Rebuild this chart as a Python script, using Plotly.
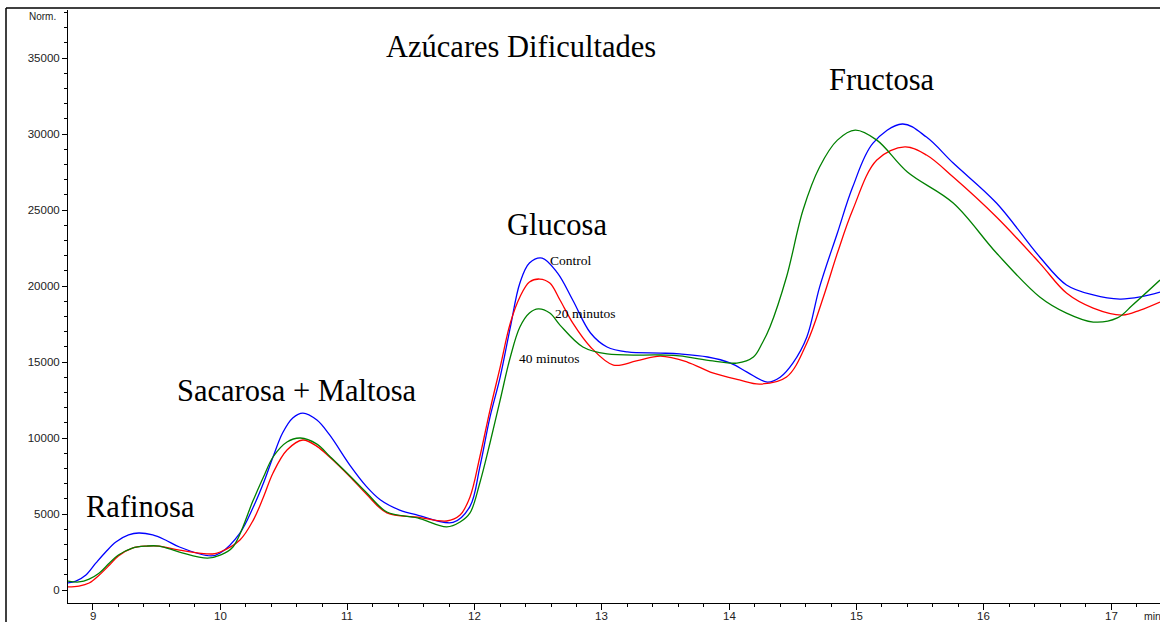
import plotly.graph_objects as go

# ---- data (time in min, signal in Norm.) ----
t_control = [8.80, 8.866, 8.945, 9.024, 9.10, 9.18, 9.28, 9.36, 9.47, 9.57, 9.68, 9.93, 10.00,
             10.155, 10.26, 10.34, 10.415, 10.49, 10.57,
             10.65, 10.76, 10.86, 11.02, 11.15, 11.26, 11.41, 11.55, 11.83, 11.963, 12.04, 12.12,
             12.20, 12.28, 12.355, 12.43, 12.53, 12.65, 12.77, 12.91, 13.04, 13.20, 13.46,
             13.61, 13.83, 14.01, 14.14, 14.30, 14.40, 14.50, 14.61, 14.71, 14.85, 14.97, 15.13, 15.36,
             15.55, 15.76, 16.10, 16.44, 16.65, 16.86, 17.07, 17.23, 17.385]
v_control = [460, 590, 990, 1780, 2500, 3160, 3620, 3750, 3620, 3290, 2830, 2240, 2430,
             3750, 5460, 7040, 8750, 10330, 11320,
             11640, 11180, 10200, 8200, 6800, 5920, 5260, 4930, 4450, 5500, 8090, 11380,
             14010, 17300, 20200, 21510, 21840, 20860, 19080, 16910, 15990, 15660, 15590,
             15530, 15330, 14930, 14340, 13680, 14000, 14930, 16650, 19930, 23490, 26510, 29400, 30660,
             29800, 28090, 25460, 21910, 20070, 19410, 19140, 19280, 19600]

t_20min = [8.80, 8.89, 8.97, 9.05, 9.13, 9.20, 9.31, 9.42, 9.52, 9.68, 9.94, 10.00, 10.155, 10.26,
           10.34, 10.415, 10.525,
           10.65, 10.76, 10.86, 11.02, 11.15, 11.31, 11.55, 11.78, 11.885, 11.963, 12.04, 12.12,
           12.20, 12.28, 12.355, 12.43, 12.51, 12.59, 12.67, 12.77, 12.91, 13.09, 13.27, 13.46,
           13.67, 13.87, 14.08, 14.24, 14.45, 14.61, 14.74, 14.85, 14.97, 15.16, 15.38, 15.55,
           15.76, 16.10, 16.44, 16.65, 16.86, 17.09, 17.23, 17.385]
v_20min = [200, 260, 460, 990, 1640, 2240, 2760, 2890, 2890, 2630, 2370, 2500, 3290, 4600,
           6120, 7700, 9210,
           9870, 9450, 8750, 7450, 6300, 5070, 4800, 4540, 4930, 6120, 8750, 11840,
           14670, 17570, 19280, 20260, 20460, 20200, 19080, 17570, 15990, 14800, 15070, 15390,
           15000, 14280, 13820, 13550, 14010, 16250, 19280, 22170, 25000, 28290, 29150, 28620,
           27170, 24540, 21510, 19540, 18550, 18090, 18420, 18950]

t_40min = [8.80, 8.89, 8.97, 9.05, 9.13, 9.20, 9.31, 9.42, 9.52, 9.68, 9.90, 10.00, 10.10, 10.26,
           10.34, 10.415, 10.525,
           10.63, 10.76, 10.86, 11.02, 11.15, 11.31, 11.55, 11.78, 11.885, 11.963, 12.04, 12.12,
           12.20, 12.28, 12.355, 12.43, 12.50, 12.59, 12.67, 12.85, 13.04, 13.46, 13.61, 13.87,
           14.06, 14.19, 14.26, 14.32, 14.45, 14.58, 14.71, 14.85, 14.99, 15.16, 15.40, 15.76,
           16.10, 16.44, 16.65, 16.86, 17.05, 17.17, 17.385]
v_40min = [590, 530, 720, 1120, 1780, 2300, 2760, 2890, 2890, 2500, 2100, 2300, 2830, 5920,
           7430, 8750, 9740,
           10000, 9600, 8800, 7500, 6400, 5130, 4740, 4150, 4470, 5070, 7040, 9670,
           12500, 15330, 17300, 18220, 18490, 18220, 17430, 15990, 15530, 15460, 15400, 15070,
           14930, 15330, 16250, 17300, 20590, 25000, 27830, 29600, 30260, 29600, 27500, 25460,
           22170, 19280, 18220, 17630, 17900, 18750, 20390]

series_names = ["Control", "20 minutos", "40 minutos"]
series_colors = ["#0000ff", "#ff0000", "#008000"]

y_ticks = [0, 5000, 10000, 15000, 20000, 25000, 30000, 35000]
x_ticks = [9, 10, 11, 12, 13, 14, 15, 16, 17]

# peak labels: (text, t, value)
peak_labels = [("Azúcares Dificultades", 12.36, 35720),
               ("Fructosa", 15.20, 33550),
               ("Glucosa", 12.65, 24010),
               ("Sacarosa + Maltosa", 10.60, 13090),
               ("Rafinosa", 9.37, 5460)]
curve_labels = [("Control", 12.76, 21650),
                ("20 minutos", 12.87, 18220),
                ("40 minutos", 12.58, 15200)]

fig = go.Figure()
for name, col, tt, vv in zip(series_names, series_colors,
                             [t_control, t_20min, t_40min], [v_control, v_20min, v_40min]):
    fig.add_trace(go.Scatter(x=tt, y=vv, mode="lines", name=name,
                             line=dict(color=col, width=1.3, shape="spline", smoothing=1.0),
                             hoverinfo="skip"))

serif = "Liberation Serif, Times New Roman, serif"
sans = "Liberation Sans, Arial, sans-serif"

for txt, x, y in peak_labels:
    fig.add_annotation(x=x, y=y, xref="x", yref="y", text=txt, showarrow=False,
                       font=dict(family=serif, size=30.5, color="#000"))
for txt, x, y in curve_labels:
    fig.add_annotation(x=x, y=y, xref="x", yref="y", text=txt, showarrow=False,
                       font=dict(family=serif, size=13.5, color="#000"))

W, H = 1160, 622
L, T, B = 68, 10, 19
pw, ph = W - L, H - T - B

# x tick labels placed as text just under the axis
for xv in x_ticks:
    fig.add_annotation(x=xv, y=(H - B - 616) / ph, xref="x", yref="paper", text=str(xv),
                       showarrow=False, xanchor="center", yanchor="middle",
                       font=dict(family=sans, size=11.5, color="#222"))

fig.add_annotation(x=(58 - L) / pw, y=(H - B - 16) / ph, xref="paper", yref="paper", text="Norm.",
                   xanchor="right", yanchor="middle",
                   showarrow=False, font=dict(family=sans, size=10, color="#222"))
fig.add_annotation(x=(1142 - L) / pw, y=(H - B - 616) / ph, xref="paper", yref="paper", text="min",
                   xanchor="left", yanchor="middle",
                   showarrow=False, font=dict(family=sans, size=10.5, color="#222"))

# outer frame (top and left)
ytop = (H - B - 8) / ph
xleft = (6 - L) / pw
fig.add_shape(type="line", xref="paper", yref="paper", x0=xleft, x1=1.01, y0=ytop, y1=ytop,
              line=dict(color="black", width=1.5))
fig.add_shape(type="line", xref="paper", yref="paper", x0=xleft, x1=xleft, y0=ytop, y1=-0.1,
              line=dict(color="black", width=1.5))

fig.update_layout(
    width=W, height=H,
    margin=dict(l=L, r=0, t=T, b=B, autoexpand=False),
    paper_bgcolor="white", plot_bgcolor="white",
    showlegend=False,
    xaxis=dict(range=[8.804, 17.385], tickvals=x_ticks, showticklabels=False,
               automargin=False,
               showline=True, linecolor="black", linewidth=1, ticks="outside", ticklen=6,
               tickcolor="black", showgrid=False, zeroline=False,
               minor=dict(dtick=0.2, tick0=9, ticks="outside", ticklen=3, tickcolor="black",
                          showgrid=False)),
    yaxis=dict(range=[-855, 38160], tickvals=y_ticks, ticktext=[str(v) for v in y_ticks],
               automargin=False,
               showline=True, linecolor="black", linewidth=1, ticks="outside", ticklen=5,
               tickcolor="black", showgrid=False, zeroline=False,
               tickfont=dict(family=sans, size=11.5, color="#222"),
               minor=dict(dtick=1000, tick0=0, ticks="outside", ticklen=3, tickcolor="black",
                          showgrid=False)),
)

fig.write_html("out.html")
